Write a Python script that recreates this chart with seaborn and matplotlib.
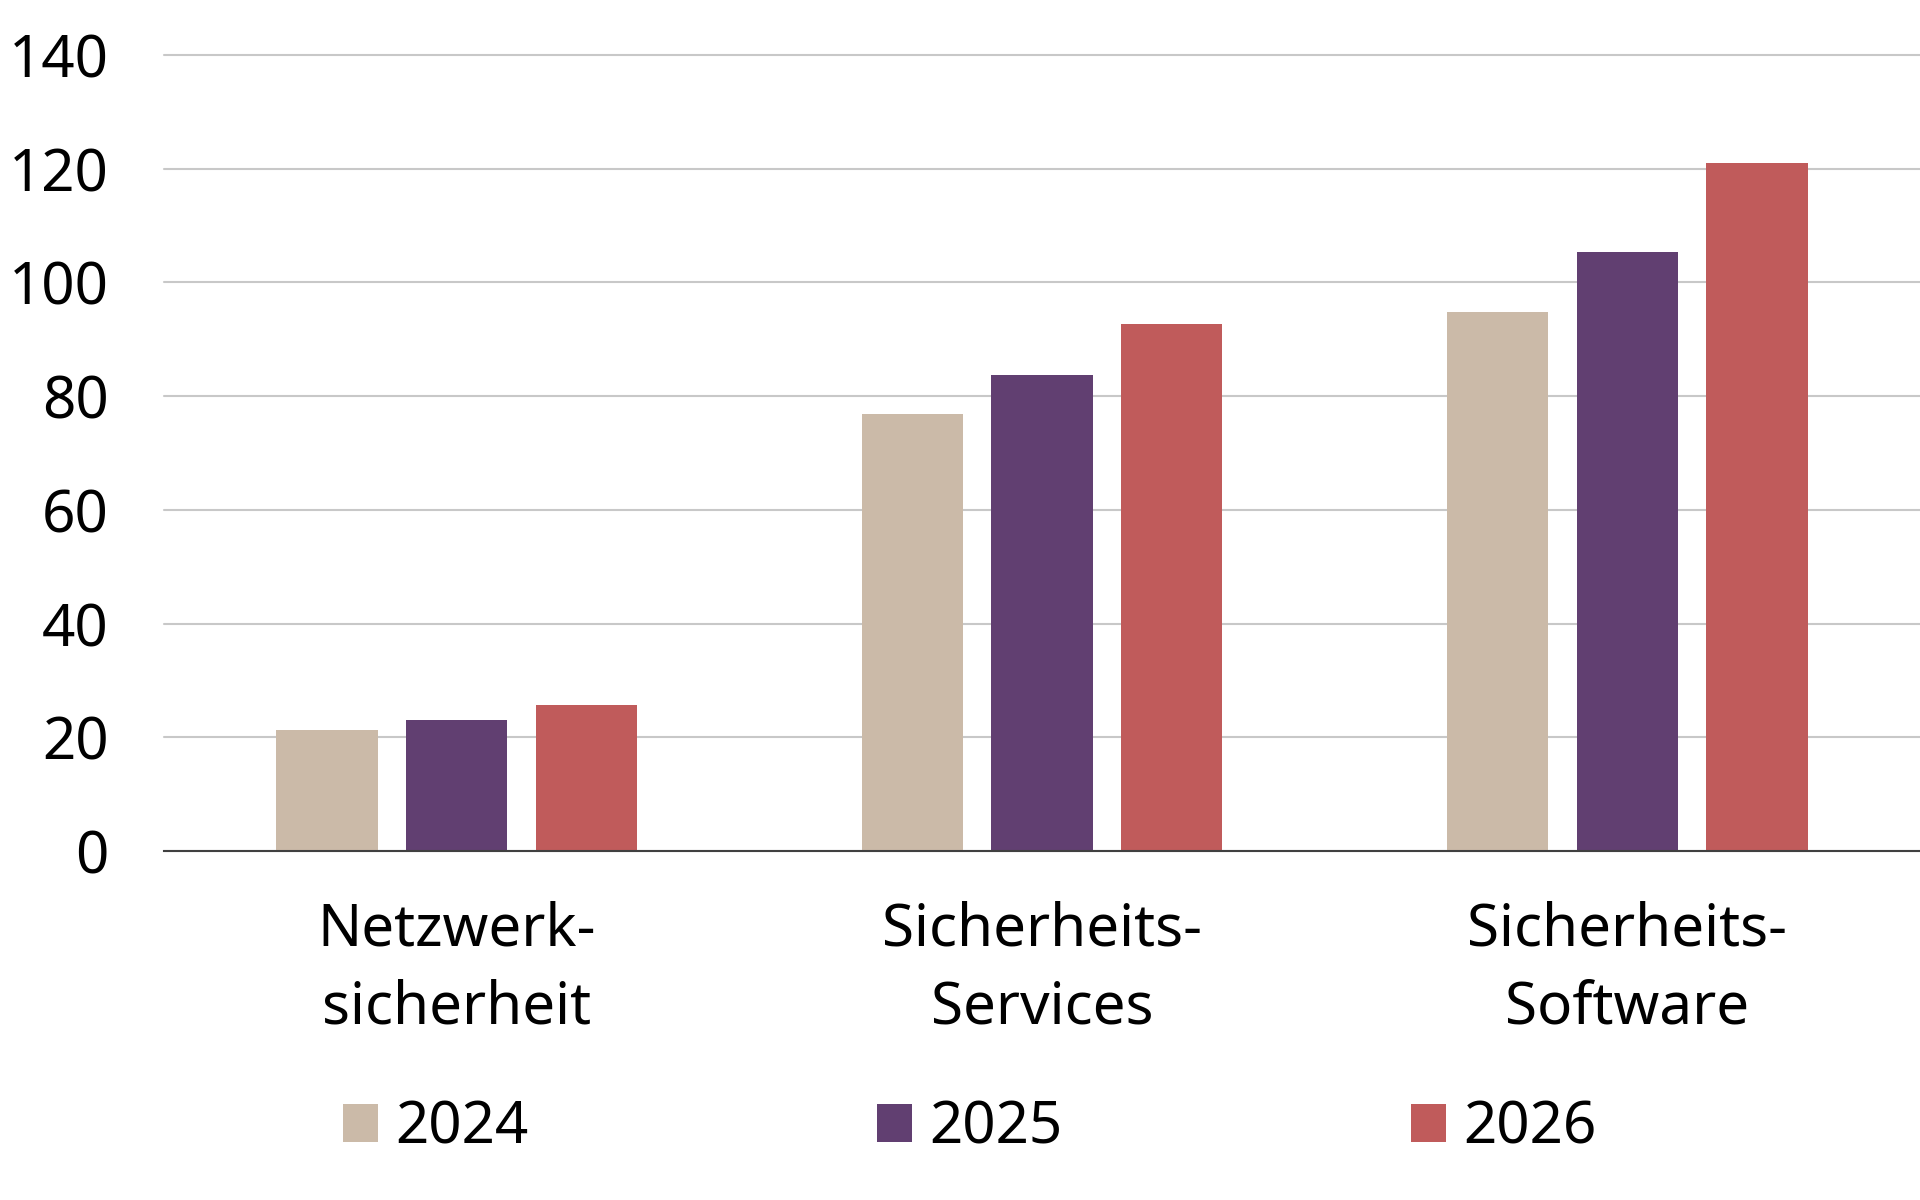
import matplotlib
matplotlib.use("Agg")
import matplotlib.pyplot as plt
import seaborn as sns
import pandas as pd
from matplotlib.patches import Patch

categories = ["Netzwerk-\nsicherheit", "Sicherheits-\nServices", "Sicherheits-\nSoftware"]
years = ["2024", "2025", "2026"]
values_2024 = [21.3, 76.9, 94.8]
values_2025 = [23.1, 83.8, 105.3]
values_2026 = [25.7, 92.7, 121.0]
yticks = [0, 20, 40, 60, 80, 100, 120, 140]
colors = ["#CBBAA8", "#613F71", "#C05B5B"]

rows = []
for yr, vals in zip(years, [values_2024, values_2025, values_2026]):
    for c, v in zip(categories, vals):
        rows.append({"cat": c, "year": yr, "val": v})
df = pd.DataFrame(rows)

sns.set_theme(style="white")
plt.rcParams["font.family"] = ["Noto Sans", "DejaVu Sans"]
plt.rcParams["text.color"] = "black"

FS = 42

fig = plt.figure(figsize=(19.2, 12), dpi=100)
ax = fig.add_axes([164 / 1920, 1 - 851 / 1200, 1 - 164 / 1920, (851 - 55) / 1200])

sns.barplot(data=df, x="cat", y="val", hue="year", hue_order=years, order=categories,
            palette=colors, saturation=1, width=0.665, gap=0.22, ax=ax, legend=False,
            edgecolor="none", linewidth=0)

ax.set_xlim(-0.5, 2.5)
ax.set_ylim(0, 140)
ax.set_yticks(yticks)
ax.set_yticklabels([str(t) for t in yticks])
ax.set_xlabel("")
ax.set_ylabel("")
ax.set_axisbelow(True)
ax.yaxis.grid(True, color="#C8C8C8", linewidth=1.5)
ax.xaxis.grid(False)
for s in ["left", "right", "top"]:
    ax.spines[s].set_visible(False)
ax.spines["bottom"].set_color("#404040")
ax.spines["bottom"].set_linewidth(1.5)
ax.tick_params(axis="y", length=0, pad=40, labelsize=FS, labelcolor="black")
ax.tick_params(axis="x", length=0, pad=36, labelsize=FS, labelcolor="black")
for lab in ax.get_xticklabels():
    lab.set_linespacing(1.4)
for line in ax.get_ygridlines():
    line.set_clip_on(False)

handles = [Patch(facecolor=c, edgecolor="none") for c in colors]
leg = fig.legend(handles, years, ncol=3, loc="center left",
                 bbox_to_anchor=(343 / 1920, 1 - 1128 / 1200), frameon=False,
                 fontsize=FS, handlelength=0.6, handleheight=0.62, handletextpad=0.3,
                 columnspacing=5.97, borderpad=0, borderaxespad=0)
for t in leg.get_texts():
    t.set_color("black")

fig.savefig("out.png", dpi=100, facecolor="white")
